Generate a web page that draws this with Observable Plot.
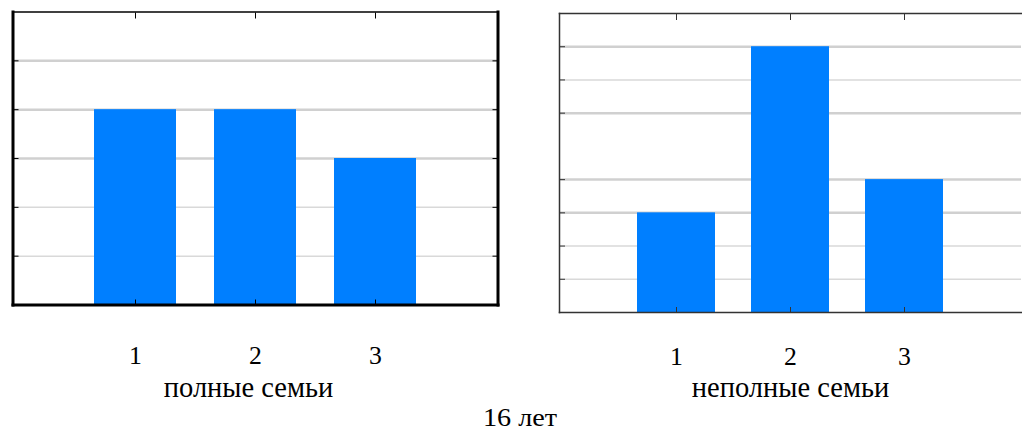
<!DOCTYPE html>
<html>
<head>
<meta charset="utf-8">
<script src="https://cdn.jsdelivr.net/npm/d3@7"></script>
<script src="https://cdn.jsdelivr.net/npm/@observablehq/plot@0.6"></script>
<style>
  html, body { margin: 0; padding: 0; background: #fff; }
  #wrap { position: relative; width: 1022px; height: 433px; overflow: hidden; background: #fff;
          font-family: "Liberation Serif", "Times New Roman", Tinos, serif; }
  #left, #right { position: absolute; top: 0; }
  #left { left: 0; }
  #right { left: 512px; }
  #caption { position: absolute; left: 420px; width: 200px; top: 405px; text-align: center;
             line-height: 25px; color: #000; }
</style>
</head>
<body>
<div id="wrap">
  <div id="left"></div>
  <div id="right"></div>
  <div id="caption"></div>
</div>
<script>
// ---- data ----
const categories = [1, 2, 3];
const fullFamilies = [4, 4, 3];          // полные семьи
const singleParent = [3, 8, 4];          // неполные семьи
const leftGridMajor = [3, 4, 5];
const leftGridMinor = [1, 2];
const rightGridMajor = [3, 4, 6, 8];
const rightGridMinor = [1, 2, 7];
const leftTitle = "полные семьи";
const rightTitle = "неполные семьи";
const caption = "16 лет";

const FONT = '"Liberation Serif", "Times New Roman", Tinos, FreeSerif, serif';
const TICK_SIZE = 24.5, TITLE_SIZE = 28.5;
const TICK_STRETCH = 1.05, CAPTION_STRETCH = 1.15;
const BLUE = "#007fff";

function styleTexts(svg) {
  svg.querySelectorAll("text").forEach(el => {
    el.style.fontFamily = FONT;
    let fs = el.getAttribute("font-size");
    let p = el.parentNode;
    while (!fs && p && p.getAttribute) { fs = p.getAttribute("font-size"); p = p.parentNode; }
    if (fs) el.style.fontSize = /px$/.test(fs) ? fs : fs + "px";
  });
  svg.querySelectorAll("text").forEach(el => {
    if (!el.textContent) return;
    const fs = parseFloat(el.style.fontSize) || 0;
    if (fs >= 26) return;
    const L = el.getComputedTextLength();
    if (L > 0) {
      el.setAttribute("textLength", (L * TICK_STRETCH).toFixed(2));
      el.setAttribute("lengthAdjust", "spacingAndGlyphs");
    }
  });
}

function panel(values, yMax, gridMajor, gridMinor, title, opts) {
  const data = categories.map((c, i) => ({cat: c, value: values[i]}));
  const allGrid = [...gridMajor, ...gridMinor].sort((a, b) => a - b);
  const marks = [
    Plot.gridY(gridMinor, {stroke: "#d9d9d9", strokeOpacity: 1, strokeWidth: 1.5}),
    Plot.gridY(gridMajor, {stroke: "#d0d0d0", strokeOpacity: 1, strokeWidth: 2.5}),
    Plot.barY(data, {x: "cat", y: "value", fill: BLUE}),
    Plot.axisY(allGrid, {anchor: "left", tickSize: 6, dx: 6, tickFormat: () => "", stroke: opts.frameColor, label: null}),
    Plot.axisX(categories, {anchor: "top", tickSize: 6, dy: 6, tickFormat: () => "", stroke: opts.frameColor, label: null}),
    Plot.axisX(categories, {anchor: "bottom", tickSize: 5, dy: -5, tickFormat: () => "", stroke: opts.frameColor, label: null}),
    Plot.axisX(categories, {anchor: "bottom", tickSize: 0, tickPadding: opts.tickPadding, fontSize: TICK_SIZE,
      label: null, fill: "#000"}),
    Plot.text([title], {text: d => d, frameAnchor: "bottom", lineAnchor: "top", dy: opts.titleDy, dx: opts.titleDx,
      fontSize: TITLE_SIZE, fill: "#000"})
  ];
  if (opts.rightTicks) {
    marks.push(Plot.axisY(allGrid, {anchor: "right", tickSize: 6, dx: -6, tickFormat: () => "", stroke: opts.frameColor, label: null}));
  }
  for (const f of opts.frame) marks.push(Plot.frame({anchor: f.anchor, stroke: opts.frameColor, strokeWidth: f.w}));
  return Plot.plot({
    width: 510,
    height: 410,
    marginLeft: opts.ml,
    marginRight: opts.mr,
    marginTop: opts.mt,
    marginBottom: opts.mb,
    style: {fontFamily: FONT, background: "transparent", overflow: "visible"},
    x: {type: "band", domain: categories, paddingInner: 0.32, paddingOuter: 0.67},
    y: {domain: [0, yMax]},
    marks
  });
}

function draw() {
  const leftEl = document.getElementById("left");
  const rightEl = document.getElementById("right");
  leftEl.innerHTML = "";
  rightEl.innerHTML = "";
  const leftSvg = panel(fullFamilies, 6, leftGridMajor, leftGridMinor, leftTitle, {
    ml: 12.5, mr: 12.5, mt: 11.5, mb: 105.5, tickPadding: 41.5, titleDy: 72, titleDx: -7,
    frameColor: "#000", rightTicks: true,
    frame: [{anchor: "left", w: 3}, {anchor: "right", w: 3}, {anchor: "bottom", w: 3}, {anchor: "top", w: 1.5}]
  });
  leftEl.appendChild(leftSvg);
  styleTexts(leftSvg);

  const rightSvg = panel(singleParent, 9, rightGridMajor, rightGridMinor, rightTitle, {
    ml: 47, mr: 1, mt: 13, mb: 98, tickPadding: 35, titleDy: 64, titleDx: 0,
    frameColor: "#333", rightTicks: false,
    frame: [{anchor: "left", w: 1.5}, {anchor: "bottom", w: 1.5}, {anchor: "top", w: 1.5}]
  });
  rightEl.appendChild(rightSvg);
  styleTexts(rightSvg);

  const cap = document.getElementById("caption");
  cap.textContent = caption;
  cap.style.fontFamily = FONT;
  cap.style.fontSize = TICK_SIZE + "px";
  cap.style.transform = `scaleX(${CAPTION_STRETCH})`;
  cap.style.transformOrigin = "center";
}

draw();
if (document.fonts) {
  Promise.all([
    document.fonts.load(`${TICK_SIZE}px "Liberation Serif"`, caption + leftTitle + rightTitle + "123"),
    document.fonts.load(`${TITLE_SIZE}px "Liberation Serif"`, leftTitle + rightTitle)
  ]).then(draw).catch(() => {});
  document.fonts.ready.then(draw);
}
</script>
</body>
</html>
